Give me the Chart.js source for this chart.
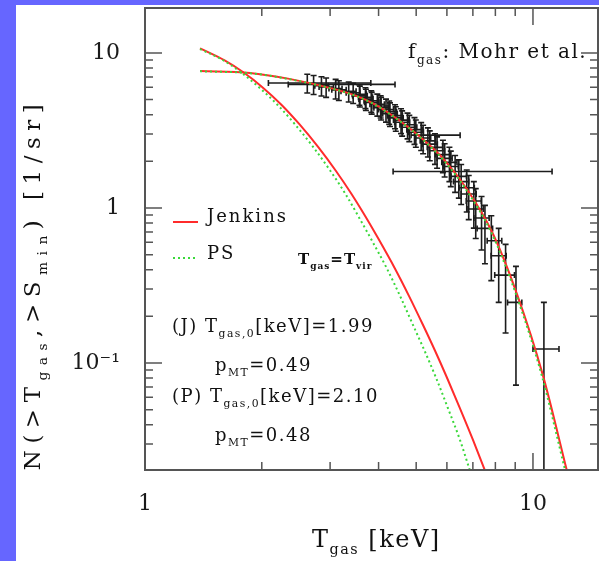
<!DOCTYPE html>
<html>
<head>
<meta charset="utf-8">
<script src="https://cdn.jsdelivr.net/npm/chart.js@4.4.0/dist/chart.umd.min.js"></script>
<style>
html, body { margin: 0; padding: 0; background: #6666ff; overflow: hidden; }
#panel { position: absolute; left: 16px; top: 5px; width: 583px; height: 556px; background: #fff; }
#wrap { position: absolute; left: 0; top: 0; width: 599px; height: 561px; }
</style>
</head>
<body>
<div id="panel"></div>
<div id="wrap"><canvas id="chart"></canvas></div>
<script>
// DATA ------------------------------------------------------

// model curves, T_gas = T_vir
const jenkinsVirT = [1.386, 1.6, 1.8, 2.0, 2.25, 2.5, 2.8, 3.1, 3.4, 3.7, 4.0, 4.4, 4.8, 5.2, 5.6, 6.0, 6.5, 7.0, 7.5, 7.9];
const jenkinsVirN = [10.7, 8.98, 7.45, 6.06, 4.62, 3.47, 2.46, 1.745, 1.24, 0.881, 0.630, 0.410, 0.268, 0.177, 0.119,
  0.0806, 0.0502, 0.0320, 0.0206, 0.0146];
const psVirT = [1.386, 1.59, 1.774, 1.959, 2.197, 2.434, 2.718, 3.0, 3.281, 3.55, 3.826, 4.196, 4.551, 4.901, 5.262,
  5.622, 6.054, 6.481, 6.863, 7.186];
const psVirN = [10.6, 8.98, 7.45, 6.06, 4.62, 3.47, 2.46, 1.745, 1.24, 0.881, 0.630, 0.410, 0.268, 0.177, 0.119,
  0.0806, 0.0502, 0.0320, 0.0206, 0.0146];

// model curves fitted to the Mohr et al. sample
const jenkinsFitT = [1.386, 1.865, 2.337, 3.03, 3.477, 3.85, 4.23, 4.82, 5.36, 5.93, 6.76, 7.84, 9.10, 10.6, 12.2, 12.6];
const jenkinsFitN = [7.65, 7.43, 6.83, 5.91, 5.33, 4.76, 4.13, 3.26, 2.60, 2.02, 1.32, 0.702, 0.277, 0.0838, 0.0207, 0.015];
const psFitT = [1.386, 1.865, 2.337, 3.03, 3.477, 3.85, 4.23, 4.82, 5.35, 5.91, 6.73, 7.80, 9.05, 10.53, 12.09, 12.48];
const psFitN = [7.62, 7.40, 6.80, 5.89, 5.31, 4.74, 4.11, 3.24, 2.59, 2.01, 1.31, 0.70, 0.276, 0.0835, 0.0206, 0.015];

// observed clusters: T, N(>T), T range, N error
const clusterT = [2.62, 2.72, 2.85, 2.93, 3.10, 3.16, 3.35, 3.44, 3.57, 3.58, 3.70, 3.71, 3.83, 3.84, 3.97, 4.05, 4.06, 4.18,
  4.26, 4.28, 4.41, 4.43, 4.57, 4.60, 4.75, 4.80, 4.95, 4.99, 5.15, 5.21, 5.36, 5.42, 5.59, 5.66, 5.86, 5.92, 6.09, 6.14,
  6.30, 6.44, 6.53, 6.75, 6.83, 7.04, 7.12, 7.37, 7.52, 7.81, 8.16, 8.50, 9.04, 10.67];
const clusterN = [6.40, 6.27, 6.15, 6.03, 5.90, 5.78, 5.66, 5.54, 5.41, 5.29, 5.17, 5.04, 4.92, 4.80, 4.67, 4.55, 4.43, 4.31,
  4.18, 4.06, 3.94, 3.81, 3.69, 3.57, 3.44, 3.32, 3.20, 3.08, 2.95, 2.83, 2.71, 2.58, 2.46, 2.34, 2.21, 2.09, 1.97, 1.85,
  1.72, 1.60, 1.48, 1.35, 1.23, 1.11, 0.984, 0.861, 0.738, 0.615, 0.492, 0.369, 0.246, 0.123];
const clusterTLo = [2.08, 2.34, 2.74, 2.81, 2.98, 3.03, 3.20, 3.30, 3.42, 3.43, 3.55, 3.56, 3.67, 3.68, 3.80, 3.88, 3.89, 4.00,
  4.08, 4.10, 4.22, 4.24, 4.37, 4.40, 4.54, 4.59, 4.73, 4.77, 4.85, 4.98, 5.12, 5.18, 5.34, 5.41, 5.60, 5.66, 5.82, 5.87,
  4.36, 6.15, 6.24, 6.45, 6.53, 6.73, 6.80, 7.04, 7.18, 7.62, 7.80, 7.97, 8.60, 10.0];
const clusterTHi = [3.82, 4.41, 2.97, 3.06, 3.22, 3.30, 3.50, 3.58, 3.72, 3.74, 3.86, 3.87, 4.00, 4.01, 4.14, 4.23, 4.25, 4.37,
  4.45, 4.47, 4.61, 4.63, 4.78, 4.81, 4.97, 5.02, 5.18, 5.22, 6.49, 5.45, 5.61, 5.67, 5.85, 5.92, 6.13, 6.19, 6.37, 6.42,
  11.2, 6.74, 6.83, 7.06, 7.14, 7.36, 7.45, 7.71, 7.87, 8.31, 8.53, 8.96, 9.36, 11.67];
const clusterNErr = [0.887, 0.878, 0.870, 0.861, 0.852, 0.843, 0.834, 0.825, 0.816, 0.807, 0.797, 0.788, 0.778, 0.768, 0.758,
  0.748, 0.738, 0.728, 0.717, 0.707, 0.696, 0.685, 0.674, 0.662, 0.651, 0.639, 0.627, 0.615, 0.603, 0.590, 0.577, 0.564,
  0.550, 0.536, 0.522, 0.507, 0.492, 0.476, 0.460, 0.443, 0.426, 0.408, 0.389, 0.369, 0.348, 0.325, 0.301, 0.275, 0.246,
  0.213, 0.174, 0.123];

// ticks
const xTickValues = [1, 2, 3, 4, 5, 6, 7, 8, 9, 10];
const xTickLabels = ['1', '', '', '', '', '', '', '', '', '10'];
const yTickValues = [0.03, 0.04, 0.05, 0.06, 0.07, 0.08, 0.09, 0.1, 0.2, 0.3, 0.4, 0.5, 0.6, 0.7, 0.8, 0.9,
  1, 2, 3, 4, 5, 6, 7, 8, 9, 10];
const yTickLabels = ['', '', '', '', '', '', '', '10\u207B\u00B9', '', '', '', '', '', '', '', '',
  '1', '', '', '', '', '', '', '', '', '10'];

// HELPERS ------------------------------------------------------

const FONT = '"DejaVu Serif", serif';
const RED = '#ff2b2b';
const GREEN = '#3ad83a';

function pts(xs, ys) {
  return xs.map((v, i) => ({ x: v, y: ys[i] }));
}

function setFont(ctx, size, bold) {
  ctx.font = (bold ? 'bold ' : '') + size + 'px ' + FONT;
}

function richWidth(ctx, parts, size, sp, bold) {
  let w = 0;
  ctx.letterSpacing = sp + 'px';
  parts.forEach(([t, k]) => {
    setFont(ctx, k === 's' ? size * 0.6 : size, bold);
    w += ctx.measureText(t).width;
  });
  return w;
}

// text with subscripts: parts = [[text], [text, 's'], ...]
function rich(ctx, x, y, parts, size, sp, bold) {
  ctx.letterSpacing = sp + 'px';
  parts.forEach(([t, k]) => {
    const sub = k === 's';
    setFont(ctx, sub ? size * 0.6 : size, bold);
    ctx.fillText(t, x, y + (sub ? size * 0.3 : 0));
    x += ctx.measureText(t).width;
  });
}

// PLUGINS ------------------------------------------------------

const errorBars = {
  id: 'errorBars',
  beforeDatasetsDraw(chart) {
    const { ctx, chartArea: a, scales: { x, y } } = chart;
    ctx.save();
    ctx.beginPath();
    ctx.rect(a.left, a.top, a.right - a.left, a.bottom - a.top);
    ctx.clip();
    ctx.strokeStyle = '#1c1c1c';
    ctx.lineWidth = 1.6;
    const cap = 3;
    clusterT.forEach((t, i) => {
      const px = x.getPixelForValue(t);
      const py = y.getPixelForValue(clusterN[i]);
      const y1 = y.getPixelForValue(clusterN[i] + clusterNErr[i]);
      const y2 = y.getPixelForValue(Math.max(clusterN[i] - clusterNErr[i], 0.0001));
      const x1 = x.getPixelForValue(clusterTLo[i]);
      const x2 = x.getPixelForValue(clusterTHi[i]);
      ctx.beginPath();
      ctx.moveTo(px, y1); ctx.lineTo(px, y2);
      ctx.moveTo(px - cap, y1); ctx.lineTo(px + cap, y1);
      ctx.moveTo(px - cap, y2); ctx.lineTo(px + cap, y2);
      ctx.moveTo(x1, py); ctx.lineTo(x2, py);
      ctx.moveTo(x1, py - cap); ctx.lineTo(x1, py + cap);
      ctx.moveTo(x2, py - cap); ctx.lineTo(x2, py + cap);
      ctx.stroke();
    });
    ctx.restore();
  }
};

const frame = {
  id: 'frame',
  afterDraw(chart) {
    const { ctx, chartArea: a, scales: { x, y } } = chart;
    ctx.save();
    ctx.strokeStyle = '#555';
    ctx.lineWidth = 2;
    ctx.strokeRect(a.left, a.top, a.right - a.left, a.bottom - a.top);
    ctx.lineWidth = 1.5;
    ctx.beginPath();
    xTickValues.forEach((v, i) => {
      const px = x.getPixelForValue(v);
      if (px <= a.left + 1 || px >= a.right - 1) return;
      const len = xTickLabels[i] ? 17 : 8;
      ctx.moveTo(px, a.bottom); ctx.lineTo(px, a.bottom - len);
      ctx.moveTo(px, a.top); ctx.lineTo(px, a.top + len);
    });
    yTickValues.forEach((v, i) => {
      const py = y.getPixelForValue(v);
      if (py <= a.top + 1 || py >= a.bottom - 1) return;
      const len = yTickLabels[i] ? 17 : 8;
      ctx.moveTo(a.left, py); ctx.lineTo(a.left + len, py);
      ctx.moveTo(a.right, py); ctx.lineTo(a.right - len, py);
    });
    ctx.stroke();
    ctx.restore();
  }
};

const labels = {
  id: 'labels',
  afterDraw(chart) {
    const ctx = chart.ctx;
    ctx.save();
    ctx.fillStyle = '#111';
    ctx.textBaseline = 'alphabetic';
    ctx.textAlign = 'left';

    // legend
    ctx.lineWidth = 2;
    ctx.strokeStyle = RED;
    ctx.beginPath(); ctx.moveTo(173, 222); ctx.lineTo(198, 222); ctx.stroke();
    ctx.strokeStyle = GREEN;
    ctx.setLineDash([2, 3]);
    ctx.beginPath(); ctx.moveTo(173, 258); ctx.lineTo(198, 258); ctx.stroke();
    ctx.setLineDash([]);
    rich(ctx, 207, 222, [['Jenkins']], 18, 2);
    rich(ctx, 207, 259, [['PS']], 18, 2);

    // annotations
    rich(ctx, 408, 58, [['f'], ['gas', 's'], [': Mohr et al.']], 20, 1.5);
    rich(ctx, 298, 264, [['T'], ['gas', 's'], ['=T'], ['vir', 's']], 15, 1, true);
    rich(ctx, 172, 332, [['(J) T'], ['gas,0', 's'], ['[keV]=1.99']], 18, 1.5);
    rich(ctx, 215, 371, [['p'], ['MT', 's'], ['=0.49']], 18, 1.5);
    rich(ctx, 172, 402, [['(P) T'], ['gas,0', 's'], ['[keV]=2.10']], 18, 1.5);
    rich(ctx, 215, 441, [['p'], ['MT', 's'], ['=0.48']], 18, 1.5);

    // axis titles
    rich(ctx, 312, 547, [['T'], ['gas', 's'], [' [keV]']], 24, 1.5);
    const yTitle = [['N(>T'], ['gas', 's'], [',>S'], ['min', 's'], [') [1/sr]']];
    const w = richWidth(ctx, yTitle, 23, 6.5);
    ctx.translate(40, 284);
    ctx.rotate(-Math.PI / 2);
    rich(ctx, -w / 2, 0, yTitle, 23, 6.5);
    ctx.restore();
  }
};

// CHART ------------------------------------------------------

const curveStyle = { showLine: true, pointRadius: 0, borderWidth: 2, cubicInterpolationMode: 'monotone', fill: false };

// keep the plot frame where the axes say, without edge-label padding
function noPad(s) {
  s.paddingTop = 0; s.paddingBottom = 0; s.paddingLeft = 0; s.paddingRight = 0;
}

new Chart(document.getElementById('chart'), {
  type: 'scatter',
  data: {
    datasets: [
      { ...curveStyle, label: 'PS', data: pts(psFitT, psFitN), borderColor: GREEN, borderDash: [2, 3] },
      { ...curveStyle, label: 'PS', data: pts(psVirT, psVirN), borderColor: GREEN, borderDash: [2, 3] },
      { ...curveStyle, label: 'Jenkins', data: pts(jenkinsFitT, jenkinsFitN), borderColor: RED },
      { ...curveStyle, label: 'Jenkins', data: pts(jenkinsVirT, jenkinsVirN), borderColor: RED },
      { label: 'Mohr et al.', data: pts(clusterT, clusterN), pointRadius: 0, showLine: false }
    ]
  },
  options: {
    responsive: true,
    maintainAspectRatio: false,
    animation: false,
    layout: { padding: { top: 8, right: 1, left: 0, bottom: 0 } },
    plugins: { legend: { display: false }, tooltip: { enabled: false } },
    scales: {
      x: {
        type: 'logarithmic',
        min: 1,
        max: 14.71,
        afterFit: s => { s.height = 91; noPad(s); },
        afterBuildTicks: s => { s.ticks = xTickValues.map(v => ({ value: v })); },
        grid: { display: false },
        border: { display: false },
        ticks: {
          autoSkip: false, maxRotation: 0, padding: 13, color: '#1a1a1a',
          font: { family: 'DejaVu Serif', size: 22 },
          callback: (v, i) => xTickLabels[i]
        }
      },
      y: {
        type: 'logarithmic',
        min: 0.0204,
        max: 19.5,
        afterFit: s => { s.width = 145; noPad(s); },
        afterBuildTicks: s => { s.ticks = yTickValues.map(v => ({ value: v })); },
        grid: { display: false },
        border: { display: false },
        ticks: {
          autoSkip: false, padding: 17, color: '#1a1a1a',
          font: { family: 'DejaVu Serif', size: 22 },
          callback: (v, i) => yTickLabels[i]
        }
      }
    }
  },
  plugins: [errorBars, frame, labels]
});
</script>
</body>
</html>
